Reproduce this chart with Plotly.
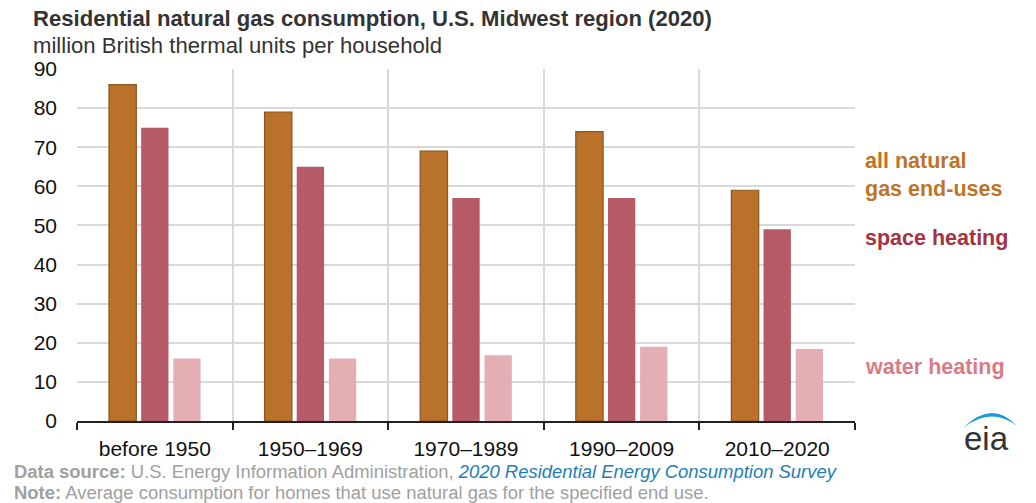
import plotly.graph_objects as go

categories = ["before 1950", "1950\u20131969", "1970\u20131989", "1990\u20132009", "2010\u20132020"]
all_uses = [86, 79, 69, 74, 59]
space_heating = [75, 65, 57, 57, 49]
water_heating = [16, 16, 16.8, 19, 18.4]
y_ticks = [0, 10, 20, 30, 40, 50, 60, 70, 80, 90]

FONT = "Liberation Sans, Arial, sans-serif"

fig = go.Figure()
fig.add_trace(go.Bar(x=categories, y=all_uses, name="all natural gas end-uses",
                     marker=dict(color="#BA722A", line=dict(color="#8A5520", width=1.2))))
fig.add_trace(go.Bar(x=categories, y=space_heating, name="space heating",
                     marker=dict(color="#B55A66", line=dict(width=0))))
fig.add_trace(go.Bar(x=categories, y=water_heating, name="water heating",
                     marker=dict(color="#E5AEB4", line=dict(width=0))))

fig.update_layout(
    width=1036, height=503,
    margin=dict(l=77, r=181, t=69, b=82),
    paper_bgcolor="white", plot_bgcolor="white",
    barmode="group", bargap=0.38, bargroupgap=0.15,
    showlegend=False,
    font=dict(family=FONT, color="#1a1a1a"),
)
fig.update_xaxes(
    type="category", tickson="boundaries", ticks="outside", ticklen=7, tickwidth=1.5,
    tickcolor="#222", showline=True, linecolor="#222", linewidth=1.5,
    showgrid=True, gridcolor="#d9d9d9", gridwidth=1.5,
    tickfont=dict(size=21, color="#111"), ticklabelstandoff=8,
)
fig.update_yaxes(
    range=[0, 90], tickvals=y_ticks, showgrid=True, gridcolor="#d9d9d9", gridwidth=1.5,
    zeroline=False, showline=False, ticks="", tickfont=dict(size=21, color="#111"),
    ticklabelstandoff=19,
)

anns = [
    dict(x=31, y=19, text="<b>Residential natural gas consumption, U.S. Midwest region (2020)</b>",
         font=dict(size=22.1, color="#333333")),
    dict(x=31, y=45, text="million British thermal units per household",
         font=dict(size=22.1, color="#333333")),
    dict(x=863, y=175, text="<b>all natural<br>gas end-uses</b>",
         font=dict(size=21.5, color="#BD7428")),
    dict(x=863, y=238, text="<b>space heating</b>", font=dict(size=21.5, color="#A33340")),
    dict(x=863, y=367, text="<b>water heating</b>", font=dict(size=21.5, color="#D97B87")),
    dict(x=12, y=471,
         text="<b>Data source:</b> U.S. Energy Information Administration, "
              "<i><span style='color:#1F7DB8'>2020 Residential Energy Consumption Survey</span></i>",
         font=dict(size=18.45, color="#A0A0A0")),
    dict(x=12, y=492,
         text="<b>Note:</b> Average consumption for homes that use natural gas for the specified end use.",
         font=dict(size=18.45, color="#A0A0A0")),
    dict(x=986, y=439, text="eia", xanchor="center",
         font=dict(size=33, color="#333333", family="Liberation Sans, Arial, sans-serif")),
]
for a in anns:
    a.setdefault("xanchor", "left")
    fig.add_annotation(xref="paper", yref="paper",
                       x=(a["x"] - 77) / 778, y=(503 - 82 - a["y"]) / 352,
                       yanchor="middle", showarrow=False, align="left",
                       text=a["text"], font=a["font"], xanchor=a["xanchor"])

# eia logo arc
def px(xp, yp):
    return (xp - 77) / 778, (503 - 82 - yp) / 352
x0, y0 = px(963, 428)
xc, yc = px(992, 399)
x1, y1 = px(1017, 426)
xc2, yc2 = px(991, 406)
fig.add_shape(type="path", xref="paper", yref="paper",
              path=f"M {x0},{y0} Q {xc},{yc} {x1},{y1} Q {xc2},{yc2} {x0},{y0} Z",
              fillcolor="#1E9BD7", line=dict(width=0))

fig.write_html("out.html")
